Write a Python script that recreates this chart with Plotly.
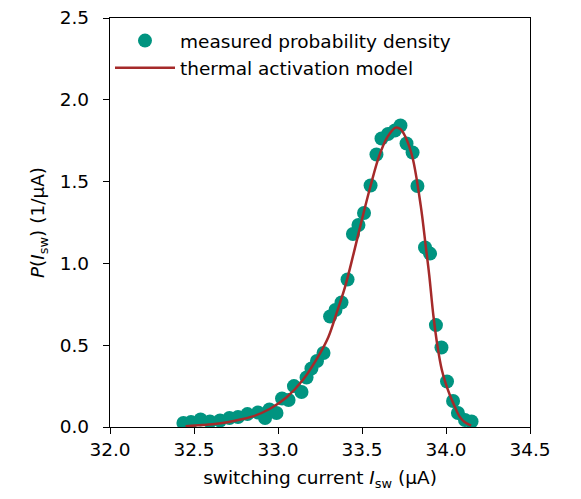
import plotly.graph_objects as go

# measured probability density (switching current in µA, density in 1/µA)
i_meas = [32.437, 32.482, 32.539, 32.595, 32.655, 32.711, 32.762, 32.818, 32.881, 32.923,
          32.949, 32.991, 33.024, 33.063, 33.095, 33.140, 33.170, 33.199, 33.232, 33.271,
          33.310, 33.342, 33.378, 33.414, 33.446, 33.479, 33.512, 33.551, 33.586, 33.616,
          33.655, 33.696, 33.729, 33.765, 33.801, 33.830, 33.875, 33.905, 33.940, 33.973,
          34.006, 34.042, 34.071, 34.113, 34.152]
p_meas = [0.024, 0.030, 0.046, 0.034, 0.040, 0.055, 0.061, 0.079, 0.089, 0.055,
          0.107, 0.086, 0.174, 0.165, 0.250, 0.214, 0.303, 0.358, 0.403, 0.452,
          0.675, 0.715, 0.761, 0.902, 1.180, 1.235, 1.308, 1.476, 1.666, 1.763,
          1.791, 1.812, 1.843, 1.733, 1.678, 1.473, 1.097, 1.060, 0.623, 0.486,
          0.278, 0.159, 0.086, 0.043, 0.034]

# thermal activation model curve
i_model = [32.45, 32.55, 32.65, 32.75, 32.85, 32.95, 33.05, 33.15, 33.25, 33.30,
           33.35, 33.40, 33.45, 33.50, 33.55, 33.60, 33.65, 33.70, 33.73, 33.76,
           33.80, 33.85, 33.88, 33.90, 33.925, 33.95, 33.975, 34.00, 34.025, 34.05,
           34.08, 34.11, 34.15]
p_model = [0.005, 0.012, 0.022, 0.040, 0.065, 0.110, 0.180, 0.290, 0.450, 0.550,
           0.700, 0.860, 1.060, 1.270, 1.470, 1.650, 1.770, 1.830, 1.820, 1.770,
           1.650, 1.350, 1.100, 0.930, 0.680, 0.490, 0.350, 0.260, 0.190, 0.130,
           0.065, 0.030, 0.008]

x_ticks = [32.0, 32.5, 33.0, 33.5, 34.0, 34.5]
y_ticks = [0.0, 0.5, 1.0, 1.5, 2.0, 2.5]

TEAL = "#009480"
RED = "#a52a2a"
FS = 18.5

fig = go.Figure()
fig.add_trace(go.Scatter(x=i_meas, y=p_meas, mode="markers", name="measured probability density",
                         marker=dict(color=TEAL, size=14, line=dict(width=0))))
fig.add_trace(go.Scatter(x=i_model, y=p_model, mode="lines", name="thermal activation model",
                         line=dict(color=RED, width=2.5, shape="spline")))

axis_style = dict(showline=True, linecolor="black", linewidth=1.3, mirror=True,
                  ticks="outside", ticklen=6, tickwidth=1.3, tickcolor="black", showgrid=False,
                  zeroline=False, automargin=False, ticklabeloverflow="allow",
                  tickfont=dict(size=FS, color="black"))

fig.update_xaxes(range=[32.0, 34.5], tickvals=x_ticks, tickformat=".1f",
                 title=dict(text="switching current <i>I</i><sub>sw</sub> (µA)",
                            font=dict(size=FS, color="black"), standoff=11),
                 **axis_style)
fig.update_yaxes(range=[0, 2.5], tickvals=y_ticks, tickformat=".1f", ticklabelstandoff=10,
                 title=dict(text="<i>P</i>(<i>I</i><sub>sw</sub>) (1/µA)",
                            font=dict(size=FS, color="black"), standoff=10),
                 **axis_style)

# the page body adds an 8px margin, so the figure is drawn a bit smaller
fig.update_layout(width=573, height=491, plot_bgcolor="white", paper_bgcolor="white",
                  font=dict(family="DejaVu Sans", color="black"),
                  margin=dict(l=102, r=51, t=10, b=72),
                  legend=dict(x=0.0, y=0.99, xanchor="left", yanchor="top", itemwidth=60,
                              bgcolor="rgba(255,255,255,0)", font=dict(size=FS)),
                  showlegend=True)

fig.write_html("out.html")
